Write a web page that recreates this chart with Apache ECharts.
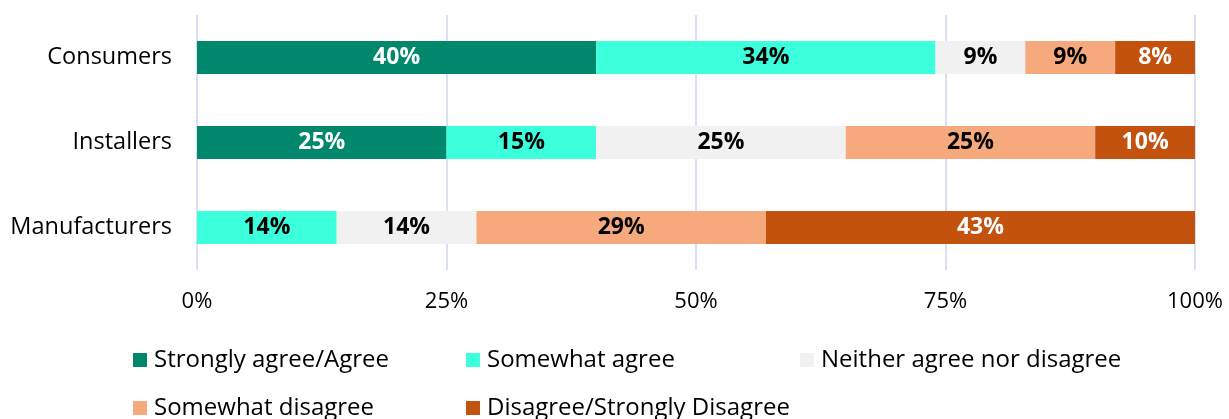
<!DOCTYPE html>
<html>
<head>
<meta charset="utf-8">
<script src="https://cdn.jsdelivr.net/npm/echarts@6/dist/echarts.min.js"></script>
<style>
  html, body { margin: 0; padding: 0; background: #fff; }
  #chart { width: 1229px; height: 419px; }
</style>
</head>
<body>
<div id="chart"></div>
<script>
// Survey groups, top to bottom
const groups = ['Consumers', 'Installers', 'Manufacturers'];

// Response shares (%) per group, in group order
const stronglyAgree   = [40, 25, 0];
const somewhatAgree   = [34, 15, 14];
const neither         = [9, 25, 14];
const somewhatDisagree = [9, 25, 29];
const disagree        = [8, 10, 43];

const seriesNames = [
  'Strongly agree/Agree',
  'Somewhat agree',
  'Neither agree nor disagree',
  'Somewhat disagree',
  'Disagree/Strongly Disagree'
];
const seriesValues = [stronglyAgree, somewhatAgree, neither, somewhatDisagree, disagree];
const seriesColors = ['#00876c', '#3cffdc', '#f1f1f1', '#f6a97c', '#c2520e'];
const labelColors  = ['#ffffff', '#000000', '#000000', '#000000', '#ffffff'];

const xTicks = [0, 25, 50, 75, 100];

const FONT = '"Open Sans", "Noto Sans", sans-serif';

const series = seriesNames.map((name, i) => ({
  name,
  type: 'bar',
  stack: 'total',
  barWidth: 33,
  data: seriesValues[i],
  itemStyle: { color: seriesColors[i] },
  label: {
    show: true,
    position: 'inside',
    fontFamily: FONT,
    fontWeight: 'bold',
    fontSize: 23,
    color: labelColors[i],
    formatter: p => (p.value > 0 ? p.value + '%' : '')
  }
}));

// legend items laid out in fixed columns over two rows
const legendPos = [
  { left: 133, top: 348 },
  { left: 466, top: 348 },
  { left: 800, top: 348 },
  { left: 133, top: 396 },
  { left: 466, top: 396 }
];
const legends = seriesNames.map((name, i) => ({
  data: [name],
  left: legendPos[i].left,
  top: legendPos[i].top,
  padding: 0,
  itemWidth: 14,
  itemHeight: 14,
  itemGap: 8,
  icon: 'rect',
  selectedMode: false,
  textStyle: { fontFamily: FONT, fontSize: 24, color: '#000', padding: [0, 0, 0, 2] }
}));

const chart = echarts.init(document.getElementById('chart'), null, { renderer: 'canvas' });
chart.setOption({
  animation: false,
  backgroundColor: '#ffffff',
  legend: legends,
  grid: { left: 197, right: 34, top: 15, bottom: 149, containLabel: false },
  xAxis: {
    type: 'value',
    min: 0,
    max: 100,
    interval: 25,
    axisLine: { show: false },
    axisTick: { show: false },
    splitLine: { show: true, lineStyle: { color: '#d9dff5', width: 2 } },
    axisLabel: {
      margin: 21,
      fontFamily: FONT,
      fontSize: 22,
      color: '#000',
      formatter: v => (xTicks.includes(v) ? v + '%' : '')
    }
  },
  yAxis: {
    type: 'category',
    inverse: true,
    data: groups,
    axisLine: { show: false },
    axisTick: { show: false },
    axisLabel: { margin: 25, fontFamily: FONT, fontSize: 23.5, color: '#000' }
  },
  series
});
</script>
</body>
</html>
